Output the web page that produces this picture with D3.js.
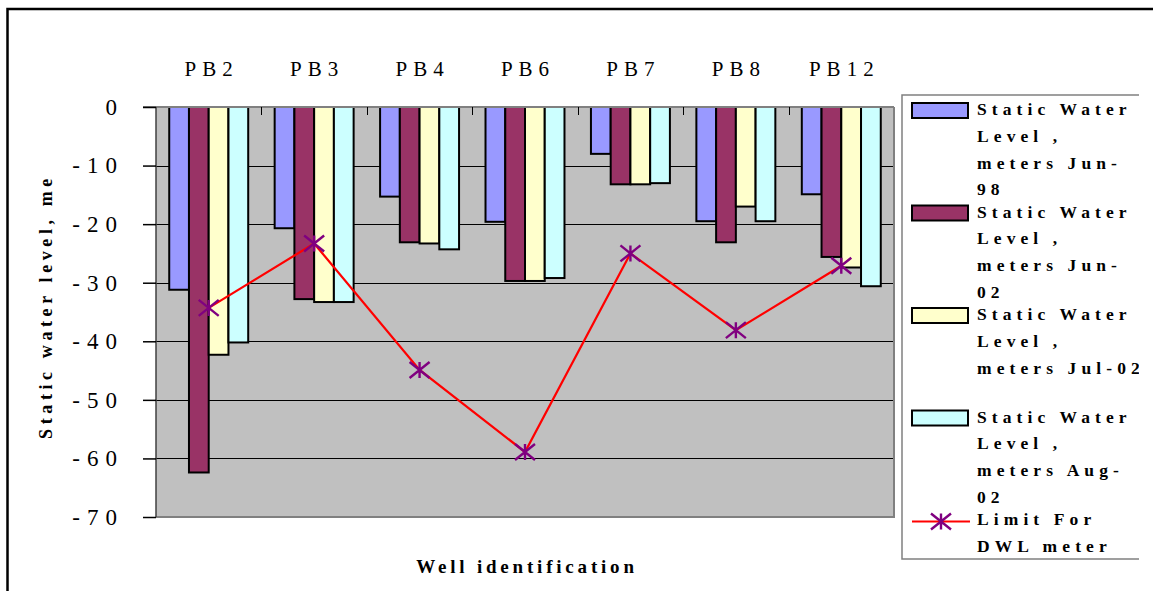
<!DOCTYPE html>
<html>
<head>
<meta charset="utf-8">
<script src="https://cdn.jsdelivr.net/npm/d3@7"></script>
<style>
  body { margin: 0; background: #fff; }
  svg { display: block; }
  svg text { font-family: "Liberation Serif", "DejaVu Serif", serif; fill: #000; }
</style>
</head>
<body>
<svg id="chart" width="1153" height="591"></svg>
<script>
// Well identifiers
const wells = ["PB2", "PB3", "PB4", "PB6", "PB7", "PB8", "PB12"];

// Static water level (m below surface, negative down)
const levelJun98 = [-31.2, -20.7, -15.3, -19.6, -8.0, -19.5, -14.9];
const levelJun02 = [-62.4, -32.8, -23.1, -29.7, -13.2, -23.1, -25.6];
const levelJul02 = [-42.3, -33.3, -23.3, -29.7, -13.2, -17.0, -27.4];
const levelAug02 = [-40.2, -33.3, -24.3, -29.2, -13.0, -19.5, -30.6];

// Depth limit of the DWL meter at each well
const limitDWL = [-34.3, -23.3, -44.9, -58.9, -25.0, -38.1, -27.1];

const seriesNames = [
  "Static Water Level , meters Jun-98",
  "Static Water Level , meters Jun-02",
  "Static Water Level , meters Jul-02",
  "Static Water Level , meters Aug-02",
  "Limit For DWL meter"
];
// legend labels as wrapped in the legend box
const legendLines = [
  ["Static Water", "Level ,", "meters Jun-", "98"],
  ["Static Water", "Level ,", "meters Jun-", "02"],
  ["Static Water", "Level ,", "meters Jul-02"],
  ["Static Water", "Level ,", "meters Aug-", "02"],
  ["Limit For", "DWL meter"]
];

const yTicks = [0, -10, -20, -30, -40, -50, -60, -70];

const barSeries = [levelJun98, levelJun02, levelJul02, levelAug02];
const barColors = ["#9999FF", "#993366", "#FFFFCC", "#CCFFFF"];

const svg = d3.select("#chart");

// outer chart frame
svg.append("rect")
  .attr("x", 7.5).attr("y", 9).attr("width", 1300).attr("height", 800)
  .attr("fill", "#fff").attr("stroke", "#000").attr("stroke-width", 2.5);

const plot = { left: 156, right: 894, top: 107, bottom: 517 };

const y = d3.scaleLinear().domain([0, -70]).range([plot.top, plot.bottom]);
const x = d3.scaleBand().domain(wells).range([plot.left, plot.right]).paddingInner(0).paddingOuter(0);
const xs = d3.scaleBand().domain(d3.range(barSeries.length))
  .range([0, x.bandwidth()]).paddingInner(0).paddingOuter(0.67);

// plot area
svg.append("rect")
  .attr("x", plot.left).attr("y", plot.top)
  .attr("width", plot.right - plot.left).attr("height", plot.bottom - plot.top)
  .attr("fill", "#C0C0C0");

// horizontal gridlines
svg.append("g")
  .selectAll("line")
  .data(yTicks.filter(d => d !== 0 && d !== -70))
  .join("line")
  .attr("x1", plot.left).attr("x2", plot.right)
  .attr("y1", d => Math.round(y(d)) + 0.5).attr("y2", d => Math.round(y(d)) + 0.5)
  .attr("stroke", "#000").attr("stroke-width", 1);

// bars
const barG = svg.append("g");
barSeries.forEach((vals, si) => {
  barG.append("g")
    .selectAll("rect")
    .data(vals)
    .join("rect")
    .attr("x", (d, i) => x(wells[i]) + xs(si))
    .attr("y", y(0))
    .attr("width", xs.bandwidth())
    .attr("height", d => y(d) - y(0))
    .attr("fill", barColors[si])
    .attr("stroke", "#000")
    .attr("stroke-width", 2);
});

// plot border (right and bottom in grey)
svg.append("path")
  .attr("d", `M${plot.left},${plot.bottom} H${plot.right} V${plot.top}`)
  .attr("fill", "none").attr("stroke", "#808080").attr("stroke-width", 2);
// category axis along zero
svg.append("line")
  .attr("x1", plot.left - 13).attr("x2", plot.right)
  .attr("y1", y(0)).attr("y2", y(0))
  .attr("stroke", "#808080").attr("stroke-width", 2);
// value axis line
svg.append("line")
  .attr("x1", plot.left).attr("x2", plot.left)
  .attr("y1", plot.top).attr("y2", plot.bottom)
  .attr("stroke", "#404040").attr("stroke-width", 1.5);

// category boundary ticks hanging from the zero line
svg.append("g")
  .selectAll("line")
  .data(wells.slice(1))
  .join("line")
  .attr("x1", d => Math.round(x(d)) + 0.5).attr("x2", d => Math.round(x(d)) + 0.5)
  .attr("y1", y(0)).attr("y2", y(0) + 8)
  .attr("stroke", "#000").attr("stroke-width", 1);

const serif = "'Liberation Serif', 'DejaVu Serif', serif";

// value axis
const yAxis = d3.axisLeft(y).tickValues(yTicks).tickSize(13).tickPadding(20)
  .tickFormat(d => String(d));
const yg = svg.append("g").attr("transform", `translate(${plot.left},0)`).call(yAxis)
  .attr("font-family", serif);
yg.select(".domain").remove();
yg.selectAll(".tick line").attr("stroke", "#000").attr("stroke-width", 1.5);
yg.selectAll(".tick text")
  .style("font-family", serif)
  .attr("font-size", 23).attr("letter-spacing", 7).attr("x", -32);

// category labels above the plot
const xAxis = d3.axisTop(x).tickSize(0).tickPadding(0);
const xg = svg.append("g").attr("transform", "translate(0,76)").call(xAxis)
  .attr("font-family", serif);
xg.select(".domain").remove();
xg.selectAll(".tick text")
  .style("font-family", serif)
  .attr("font-size", 21).attr("letter-spacing", 6).attr("dy", 0).attr("dx", 3);

// DWL meter limit line
const cx = (d, i) => x(wells[i]) + x.bandwidth() / 2;
svg.append("path")
  .datum(limitDWL)
  .attr("d", d3.line().x(cx).y(d => y(d)))
  .attr("fill", "none").attr("stroke", "#FF0000").attr("stroke-width", 2.2);

function star(g, px, py) {
  g.append("path")
    .attr("d", `M${px - 10},${py - 8}L${px + 10},${py + 8}M${px - 10},${py + 8}L${px + 10},${py - 8}M${px},${py - 8}V${py + 8}`)
    .attr("stroke", "#800080").attr("stroke-width", 2.4).attr("fill", "none");
}
const markG = svg.append("g");
limitDWL.forEach((d, i) => star(markG, cx(d, i), y(d)));

// axis titles
svg.append("text")
  .style("font-family", serif)
  .attr("transform", "translate(52,309) rotate(-90)")
  .attr("text-anchor", "middle")
  .attr("font-weight", "bold").attr("font-size", 18).attr("letter-spacing", 4.6)
  .attr("dx", 2.5)
  .text("Static water level, me");

svg.append("text")
  .style("font-family", serif)
  .attr("x", 527).attr("y", 573)
  .attr("text-anchor", "middle")
  .attr("font-weight", "bold").attr("font-size", 19).attr("letter-spacing", 3.8)
  .text("Well identification");

// legend
const lg = { left: 902, top: 95, right: 1139, bottom: 559 };
svg.append("defs").append("clipPath").attr("id", "legendClip")
  .append("rect").attr("x", lg.left).attr("y", lg.top).attr("width", lg.right - lg.left).attr("height", lg.bottom - lg.top);

svg.append("path")
  .attr("d", `M${lg.right},${lg.top} H${lg.left} V${lg.bottom} H${lg.right}`)
  .attr("fill", "none").attr("stroke", "#808080").attr("stroke-width", 1.5);

const legend = svg.append("g").attr("clip-path", "url(#legendClip)");
const entryStep = 102.5, lineStep = 26.8;
seriesNames.forEach((name, i) => {
  const top = 103 + i * entryStep;
  if (i < barSeries.length) {
    legend.append("rect")
      .attr("x", 912).attr("y", top).attr("width", 56).attr("height", 15)
      .attr("fill", barColors[i]).attr("stroke", "#000").attr("stroke-width", 2);
  } else {
    legend.append("line")
      .attr("x1", 912).attr("x2", 970).attr("y1", top + 8.5).attr("y2", top + 8.5)
      .attr("stroke", "#FF0000").attr("stroke-width", 2.2);
    star(legend, 941, top + 8.5);
  }
  const t = legend.append("text")
    .style("font-family", serif)
    .attr("font-weight", "bold").attr("font-size", 17.5).attr("letter-spacing", 5.1);
  legendLines[i].forEach((ln, j) => {
    t.append("tspan").attr("x", 977).attr("y", top + 12 + j * lineStep).text(ln);
  });
});
</script>
</body>
</html>
